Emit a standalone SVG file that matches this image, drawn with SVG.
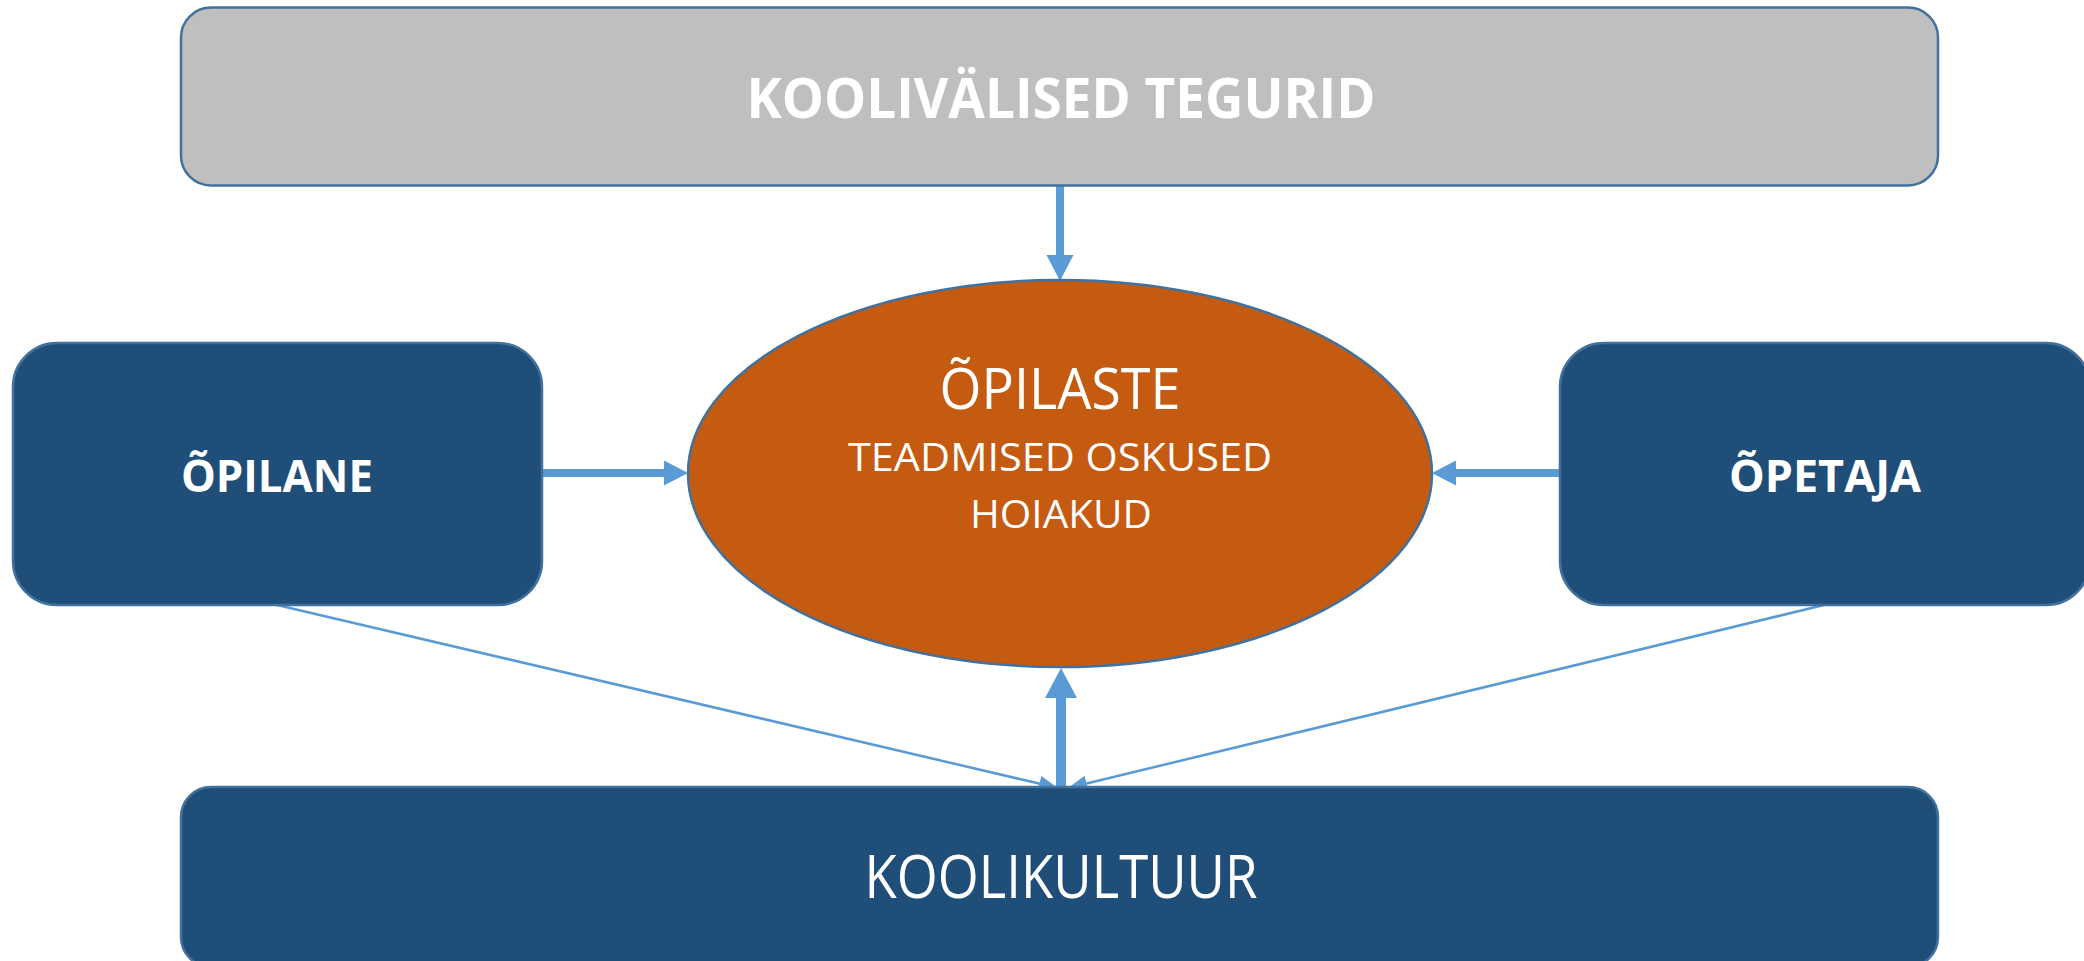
<svg xmlns="http://www.w3.org/2000/svg" width="2084" height="961" viewBox="0 0 2084 961">
<style>
.box{stroke:#41719C;stroke-width:2.5}
.grey{fill:#BFBFBF}
.dark{fill:#1F4E79}
.oval{fill:#C55A11;stroke:#41719C;stroke-width:2.5}
.t{font-family:"Open Sans","Noto Sans",sans-serif;fill:#FFFFFF;text-anchor:middle}
.b{font-weight:bold}
.thick{stroke:#5B9BD5;fill:none}
.thin{stroke:#5B9BD5;stroke-width:2.5;fill:none}
.head{fill:#5B9BD5}
</style>
<defs>
<marker id="headA" markerUnits="userSpaceOnUse" markerWidth="28" markerHeight="28" refX="0" refY="13.5" orient="auto" overflow="visible">
<path class="head" d="M0,0 L26,13.5 L0,27 Z"/>
</marker>
<marker id="headH" markerUnits="userSpaceOnUse" markerWidth="26" markerHeight="26" refX="0" refY="12.5" orient="auto" overflow="visible">
<path class="head" d="M0,0 L24,12.5 L0,25 Z"/>
</marker>
<marker id="headB" markerUnits="userSpaceOnUse" markerWidth="32" markerHeight="32" refX="0" refY="16" orient="auto" overflow="visible">
<path class="head" d="M0,0 L30,16 L0,32 Z"/>
</marker>
<marker id="headT" markerUnits="userSpaceOnUse" markerWidth="20" markerHeight="16" refX="19" refY="8" orient="auto" overflow="visible">
<path class="head" d="M0,0 L19,8 L0,16 Z"/>
</marker>
</defs>

<g id="connectors">
<line class="thick" x1="1060" y1="186" x2="1060" y2="255" stroke-width="8" marker-end="url(#headA)"/>
<line class="thick" x1="542" y1="473" x2="664" y2="473" stroke-width="8" marker-end="url(#headH)"/>
<line class="thick" x1="1560" y1="473" x2="1456" y2="473" stroke-width="8" marker-end="url(#headH)"/>
<line class="thick" x1="1061" y1="787" x2="1061" y2="698" stroke-width="10" marker-end="url(#headB)"/>
<line class="thin" x1="277" y1="605" x2="1058" y2="788" marker-end="url(#headT)"/>
<line class="thin" x1="1824" y1="605" x2="1068" y2="788" marker-end="url(#headT)"/>
</g>

<g id="koolivalised">
<rect class="box grey" x="181" y="7.5" width="1757" height="178" rx="30"/>
<text class="t b" x="1061" y="118" font-size="56" textLength="629" lengthAdjust="spacingAndGlyphs">KOOLIVÄLISED TEGURID</text>
</g>

<g id="opilane">
<rect class="box dark" x="13" y="343" width="529" height="262" rx="44"/>
<text class="t b" x="277" y="492" font-size="45" textLength="192" lengthAdjust="spacingAndGlyphs">ÕPILANE</text>
</g>

<g id="opetaja">
<rect class="box dark" x="1560" y="343" width="530" height="262" rx="44"/>
<text class="t b" x="1825" y="492" font-size="45" textLength="192" lengthAdjust="spacingAndGlyphs">ÕPETAJA</text>
</g>

<g id="opilaste">
<ellipse class="oval" cx="1060" cy="473.5" rx="372" ry="193.5"/>
<text class="t" x="1060" y="409" font-size="57" textLength="241" lengthAdjust="spacingAndGlyphs">ÕPILASTE</text>
<text class="t" x="1060" y="471" font-size="38" textLength="424" lengthAdjust="spacingAndGlyphs">TEADMISED OSKUSED</text>
<text class="t" x="1061" y="528" font-size="38" textLength="182" lengthAdjust="spacingAndGlyphs">HOIAKUD</text>
</g>

<g id="koolikultuur">
<rect class="box dark" x="181" y="787" width="1757" height="180" rx="30"/>
<text class="t" x="1061" y="898" font-size="60" textLength="393" lengthAdjust="spacingAndGlyphs">KOOLIKULTUUR</text>
</g>
</svg>
